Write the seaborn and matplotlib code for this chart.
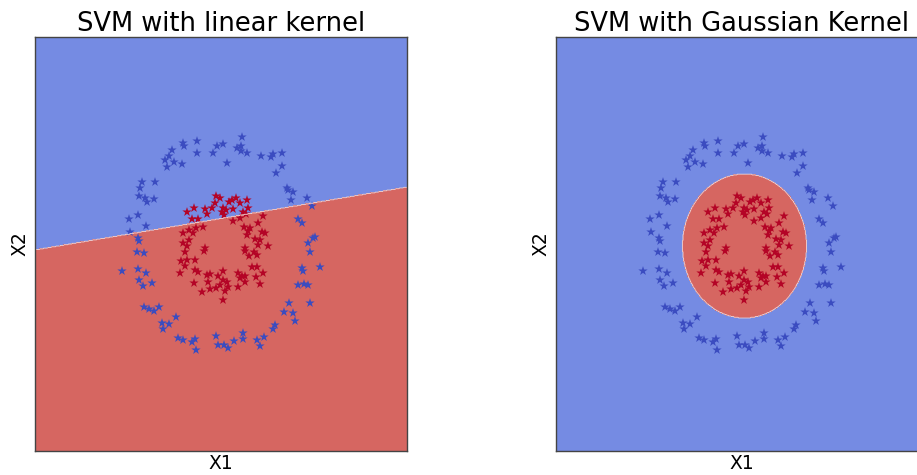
import numpy as np
import pandas as pd
import matplotlib
matplotlib.use("Agg")
import matplotlib.pyplot as plt
import seaborn as sns

# ---- data (feature space X1, X2) ----
outer_x1 = [-0.38, -0.37, -0.24, -0.04, 0.02, -0.24, -0.08, 0.06, -0.49, -0.52,
            -0.56, -0.47, -0.54, -0.39, -0.79, -0.66, -0.81, -0.82, -0.76, -0.74,
            -0.67, -0.83, -0.92, -0.75, -0.91, -0.83, -0.82, 0.21, 0.16, 0.20,
            0.20, 0.26, 0.40, 0.52, 0.50, 0.61, 0.61, 0.55, 0.66, 0.67,
            0.72, 0.70, 0.86, 0.91, 0.77, 0.81, 0.94, 0.92, 0.87, -0.84,
            -0.77, -0.99, -0.83, -0.75, -0.82, -0.78, -0.69, -0.77, -0.72, -0.67,
            -0.62, -0.45, -0.59, -0.52, -0.58, -0.43, -0.38, -0.26, -0.29, -0.25,
            -0.05, -0.03, 0.03, 0.07, 0.89, 0.81, 0.82, 0.99, 0.77, 0.83,
            0.87, 0.68, 0.89, 0.63, 0.72, 0.74, 0.54, 0.52, 0.22, 0.22,
            0.43, 0.36, 0.39, 0.13]
outer_x2 = [1.02, 0.99, 1.04, 0.99, 1.01, 0.92, 0.92, 0.82, 0.95, 0.89,
            0.85, 0.83, 0.78, 0.81, 0.63, 0.63, 0.57, 0.49, 0.47, 0.43,
            0.46, 0.30, 0.26, 0.19, 0.13, 0.07, 0.04, 1.08, 0.97, 0.99,
            0.94, 0.92, 0.89, 0.91, 0.88, 0.92, 0.79, 0.72, 0.57, 0.55,
            0.53, 0.45, 0.47, 0.39, 0.26, 0.22, 0.08, 0.07, 0.02, -0.07,
            -0.08, -0.26, -0.24, -0.28, -0.35, -0.41, -0.38, -0.62, -0.64, -0.66,
            -0.62, -0.72, -0.78, -0.79, -0.84, -0.93, -0.95, -0.94, -0.97, -1.05,
            -0.91, -1.00, -1.00, -1.03, -0.07, -0.23, -0.26, -0.22, -0.40, -0.39,
            -0.40, -0.58, -0.58, -0.67, -0.68, -0.76, -0.80, -0.84, -0.88, -0.94,
            -0.92, -0.95, -1.01, -0.96]

inner_x1 = [-0.05, -0.01, 0.08, -0.06, -0.09, 0.02, 0.05, -0.16, -0.27, -0.34,
            -0.14, 0.03, -0.29, -0.23, -0.18, -0.25, -0.32, -0.38, -0.28, -0.32,
            -0.38, -0.34, -0.16, 0.01, 0.11, 0.15, 0.19, 0.26, 0.12, 0.22,
            0.27, 0.25, 0.19, 0.12, 0.42, 0.37, 0.23, 0.29, 0.27, 0.41,
            0.44, 0.26, 0.34, 0.39, 0.37, 0.47, 0.24, -0.36, -0.17, -0.40,
            -0.34, -0.26, -0.36, -0.41, -0.26, -0.23, -0.14, -0.11, -0.03, 0.02,
            -0.27, -0.13, 0.02, 0.06, -0.01, -0.19, -0.11, -0.05, 0.04, 0.02,
            0.07, 0.24, 0.33, 0.36, 0.28, 0.31, 0.36, 0.17, 0.21, 0.24,
            0.42, 0.35, 0.19, 0.24, 0.17, 0.39]
inner_x2 = [0.49, 0.47, 0.43, 0.42, 0.37, 0.37, 0.35, 0.36, 0.37, 0.33,
            0.31, 0.30, 0.26, 0.26, 0.18, 0.17, 0.15, 0.12, 0.12, 0.05,
            0.02, -0.01, -0.03, 0.33, 0.45, 0.47, 0.42, 0.45, 0.36, 0.33,
            0.37, 0.31, 0.27, 0.24, 0.29, 0.22, 0.18, 0.17, 0.14, 0.13,
            0.12, 0.10, 0.06, 0.05, 0.00, -0.01, -0.03, -0.07, -0.06, -0.16,
            -0.15, -0.15, -0.21, -0.28, -0.25, -0.27, -0.30, -0.29, -0.31, -0.26,
            -0.38, -0.37, -0.35, -0.37, -0.40, -0.47, -0.44, -0.43, -0.46, -0.55,
            -0.42, -0.06, -0.07, -0.10, -0.11, -0.22, -0.22, -0.28, -0.31, -0.31,
            -0.28, -0.32, -0.33, -0.37, -0.42, -0.39]

# decision boundaries
linear_slope = 0.169        # X2 = slope * X1 + intercept
linear_intercept = 0.265
rbf_center = (0.025, -0.01)  # elliptic boundary of the Gaussian-kernel model
rbf_axes = (0.62, 0.72)

titles = ["SVM with linear kernel", "SVM with Gaussian Kernel"]
x_label, y_label = "X1", "X2"
x_range = (-1.86, 1.86)
y_range = (-2.06, 2.08)

df = pd.DataFrame({
    "X1": outer_x1 + inner_x1,
    "X2": outer_x2 + inner_x2,
    "cls": [0] * len(outer_x1) + [1] * len(inner_x1),
})

sns.set_style("white")
plt.rcParams["font.family"] = ["DejaVu Sans"]
plt.rcParams["text.color"] = "black"
plt.rcParams["axes.labelcolor"] = "black"

cmap = plt.get_cmap("coolwarm")
bg_colors = [cmap(0.08), cmap(0.93)]
pt_palette = {0: cmap(0.0), 1: cmap(1.0)}

fig = plt.figure(figsize=(9.17, 4.75), dpi=100)
ax1 = fig.add_axes([35 / 917, 24 / 475, 372 / 917, 414 / 475])
ax2 = fig.add_axes([556 / 917, 24 / 475, 372 / 917, 414 / 475])

gx, gy = np.meshgrid(np.linspace(*x_range, 600), np.linspace(*y_range, 600))
z_lin = (gy < linear_slope * gx + linear_intercept).astype(float)
z_rbf = (((gx - rbf_center[0]) / rbf_axes[0]) ** 2 +
         ((gy - rbf_center[1]) / rbf_axes[1]) ** 2 < 1).astype(float)

for ax, z, title in [(ax1, z_lin, titles[0]), (ax2, z_rbf, titles[1])]:
    ax.contourf(gx, gy, z, levels=[-0.5, 0.5, 1.5], colors=bg_colors, alpha=0.8)
    ax.contour(gx, gy, z, levels=[0.5], colors=["#f4dede"], linewidths=0.6)
    sns.scatterplot(data=df, x="X1", y="X2", hue="cls", palette=pt_palette,
                    marker="*", s=50, linewidth=0, legend=False, ax=ax)
    ax.set_xlim(*x_range)
    ax.set_ylim(*y_range)
    ax.set_xticks([])
    ax.set_yticks([])
    ax.set_xlabel(x_label, fontsize=13.5, labelpad=2)
    ax.set_ylabel(y_label, fontsize=13.5, labelpad=4)
    ax.set_title(title, fontsize=18.5, pad=4, color="black")
    for sp in ax.spines.values():
        sp.set_color("#444444")
        sp.set_linewidth(1.0)

fig.savefig("out.png", dpi=100)
